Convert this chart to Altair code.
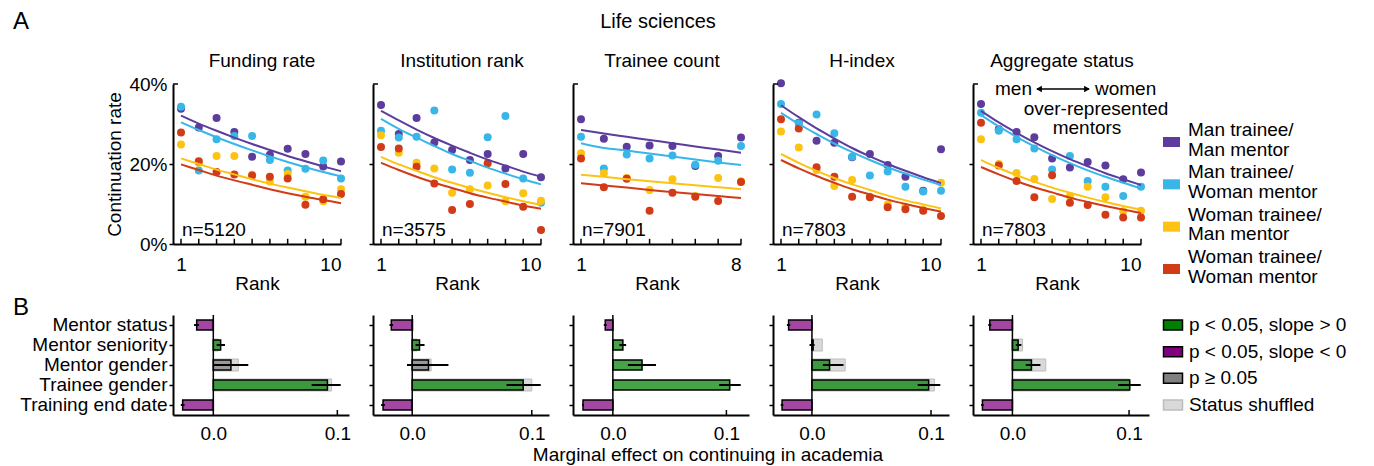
import altair as alt
import pandas as pd

FONT = "Liberation Sans"
FS = 19

# ---------------- Panel A data ----------------
GROUPS = ["Man trainee/Man mentor", "Man trainee/Woman mentor",
          "Woman trainee/Man mentor", "Woman trainee/Woman mentor"]
GROUP_COLORS = ["#5C3C9C", "#38B6E8", "#FDC313", "#D13B17"]

PANEL_TITLES = ["Funding rate", "Institution rank", "Trainee count", "H-index", "Aggregate status"]
N_LABELS = ["n=5120", "n=3575", "n=7901", "n=7803", "n=7803"]
RANK_MAX = [10, 10, 8, 10, 10]

# continuation rate (%) per rank, one list per group (order of GROUPS)
funding_points = [
    [33.8, 29.1, 31.5, 28.0, 21.8, 22.3, 23.8, 22.5, 19.4, 20.6],
    [34.3, 18.4, 26.2, 27.0, 27.0, 21.0, 18.4, 18.8, 20.9, 16.4],
    [24.9, 20.3, 22.0, 22.0, 17.3, 15.6, 17.5, 11.8, 10.7, 13.7],
    [27.9, 20.7, 18.0, 17.4, 17.1, 16.8, 16.4, 9.8, 11.2, 12.5],
]
funding_fit = [
    [32.1, 30.1, 28.3, 26.6, 25.0, 23.5, 22.0, 20.7, 19.4, 18.2],
    [30.4, 28.5, 26.7, 25.0, 23.4, 21.9, 20.5, 19.2, 18.0, 16.9],
    [21.4, 20.0, 18.6, 17.4, 16.2, 15.1, 14.1, 13.2, 12.3, 11.5],
    [19.9, 18.5, 17.1, 15.9, 14.8, 13.7, 12.7, 11.8, 11.0, 10.2],
]
institution_points = [
    [34.75, 27.5, 31.5, 25.4, 23.5, 21.0, 22.5, 18.9, 22.5, 16.7],
    [28.3, 26.6, 26.8, 33.4, 18.6, 17.8, 26.7, 32.0, 16.4, 10.3],
    [27.2, 22.8, 20.3, 18.9, 12.8, 13.7, 14.6, 10.7, 12.7, 10.8],
    [24.25, 23.9, 19.3, 15.1, 8.5, 10.0, 20.2, 15.0, 9.3, 3.5],
]
institution_fit = [
    [33.3, 30.9, 28.6, 26.5, 24.6, 22.8, 21.1, 19.6, 18.1, 16.8],
    [31.3, 28.8, 26.6, 24.5, 22.5, 20.8, 19.1, 17.6, 16.2, 14.9],
    [21.8, 19.9, 18.3, 16.7, 15.3, 14.0, 12.8, 11.7, 10.7, 9.8],
    [20.3, 18.5, 16.8, 15.3, 14.0, 12.7, 11.6, 10.6, 9.6, 8.8],
]
trainee_points = [
    [31.2, 26.3, 24.3, 24.6, 24.5, 19.5, 22.0, 26.6],
    [26.8, 18.9, 22.4, 21.4, 22.1, 19.8, 20.8, 24.5],
    [22.7, 17.7, 16.5, 13.5, 16.2, 12.0, 16.5, 15.7],
    [21.4, 14.2, 16.3, 8.3, 12.8, 11.8, 10.75, 15.5],
]
trainee_fit = [
    [28.5, 27.6, 26.8, 26.0, 25.2, 24.4, 23.6, 22.8],
    [25.2, 24.0, 23.4, 22.6, 21.9, 21.1, 20.4, 19.75],
    [17.3, 16.8, 16.2, 15.7, 15.2, 14.7, 14.2, 13.7],
    [15.2, 14.6, 14.1, 13.5, 13.0, 12.5, 12.0, 11.5],
]
hindex_points = [
    [40.2, 30.3, 25.8, 25.3, 21.7, 22.5, 19.75, 16.8, 13.3, 23.7],
    [35.0, 30.2, 32.4, 27.7, 21.8, 17.1, 18.1, 14.3, 13.1, 13.3],
    [28.1, 24.1, 18.5, 14.5, 16.0, 11.8, 9.9, 9.3, 8.5, 15.3],
    [31.2, 28.9, 19.2, 16.8, 11.8, 11.7, 9.2, 8.7, 8.3, 7.0],
]
hindex_fit = [
    [34.7, 31.7, 28.9, 26.4, 24.0, 21.9, 20.0, 18.3, 16.7, 15.2],
    [32.8, 30.0, 27.5, 25.1, 23.0, 21.0, 19.2, 17.6, 16.1, 14.75],
    [22.5, 20.3, 18.3, 16.5, 14.9, 13.5, 12.1, 10.9, 9.9, 8.9],
    [21.0, 18.9, 17.0, 15.3, 13.7, 12.4, 11.1, 10.0, 9.0, 8.1],
]
aggregate_points = [
    [35.0, 28.7, 28.0, 26.7, 21.4, 19.1, 20.5, 19.6, 16.2, 17.9],
    [32.8, 28.3, 26.2, 23.9, 18.6, 22.0, 15.75, 14.3, 12.0, 14.3],
    [26.2, 20.0, 17.75, 16.25, 11.25, 12.0, 14.3, 11.7, 8.2, 8.3],
    [30.3, 19.6, 15.75, 11.7, 17.2, 10.3, 9.75, 7.3, 6.6, 6.6],
]
aggregate_fit = [
    [33.3, 30.4, 27.8, 25.4, 23.2, 21.2, 19.4, 17.7, 16.2, 14.75],
    [32.25, 29.4, 26.8, 24.4, 22.2, 20.2, 18.4, 16.8, 15.3, 13.9],
    [21.0, 19.0, 17.2, 15.6, 14.1, 12.8, 11.6, 10.5, 9.5, 8.6],
    [19.25, 17.4, 15.7, 14.2, 12.9, 11.6, 10.5, 9.5, 8.6, 7.75],
]
TOP_POINTS = [funding_points, institution_points, trainee_points, hindex_points, aggregate_points]
TOP_FITS = [funding_fit, institution_fit, trainee_fit, hindex_fit, aggregate_fit]

# ---------------- Panel B data ----------------
FACTORS = ["Mentor status", "Mentor seniority", "Mentor gender", "Trainee gender", "Training end date"]
SIG_LABELS = ["p < 0.05, slope > 0", "p < 0.05, slope < 0", "p \u2265 0.05", "Status shuffled"]
SIG_COLORS = ["#007F00", "#800080", "#808080", "#D9D9D9"]
SIG_STROKES = ["black", "black", "black", "#BDBDBD"]

funding_effect = [-0.0134, 0.0059, 0.0142, 0.0920, -0.0247]
funding_lo = [-0.0155, 0.0027, 0.0000, 0.0793, -0.0262]
funding_hi = [-0.0115, 0.0094, 0.0282, 0.1027, -0.0232]
funding_shuffled = [-0.0010, 0.0040, 0.0202, 0.0954, -0.0010]
funding_sig = [1, 0, 2, 0, 1]

institution_effect = [-0.0175, 0.0061, 0.0136, 0.0928, -0.0244]
institution_lo = [-0.0190, 0.0028, -0.0044, 0.0789, -0.0260]
institution_hi = [-0.0160, 0.0103, 0.0303, 0.1075, -0.0228]
institution_shuffled = [0.0010, 0.0040, 0.0158, 0.1000, -0.0010]
institution_sig = [1, 0, 2, 0, 1]

trainee_effect = [-0.0067, 0.0088, 0.0257, 0.1029, -0.0263]
trainee_lo = [-0.0080, 0.0058, 0.0132, 0.0936, -0.0272]
trainee_hi = [-0.0055, 0.0117, 0.0380, 0.1126, -0.0254]
trainee_shuffled = [0.0, 0.0, 0.0, 0.0, 0.0]
trainee_sig = [1, 0, 0, 0, 1]

hindex_effect = [-0.0196, 0.0010, 0.0148, 0.0980, -0.0251]
hindex_lo = [-0.0210, -0.0020, 0.0092, 0.0888, -0.0262]
hindex_hi = [-0.0182, 0.0022, 0.0265, 0.1078, -0.0240]
hindex_shuffled = [0.0, 0.0087, 0.0279, 0.1028, 0.0]
hindex_sig = [1, 2, 0, 0, 1]

aggregate_effect = [-0.0194, 0.0049, 0.0163, 0.1006, -0.0257]
aggregate_lo = [-0.0207, 0.0029, 0.0114, 0.0906, -0.0268]
aggregate_hi = [-0.0181, 0.0077, 0.0240, 0.1100, -0.0246]
aggregate_shuffled = [0.0, 0.0086, 0.0286, 0.1000, 0.0]
aggregate_sig = [1, 0, 0, 0, 1]

BOTTOM = [
    (funding_effect, funding_lo, funding_hi, funding_shuffled, funding_sig),
    (institution_effect, institution_lo, institution_hi, institution_shuffled, institution_sig),
    (trainee_effect, trainee_lo, trainee_hi, trainee_shuffled, trainee_sig),
    (hindex_effect, hindex_lo, hindex_hi, hindex_shuffled, hindex_sig),
    (aggregate_effect, aggregate_lo, aggregate_hi, aggregate_shuffled, aggregate_sig),
]
BOTTOM_DOMAINS = [[-0.0325, 0.1094], [-0.0328, 0.1144], [-0.0351, 0.1199],
                  [-0.0327, 0.1151], [-0.0338, 0.1171]]

TOP_W, TOP_H = 168, 160
BOT_W, BOT_H = 176, 100

color_scale = alt.Scale(domain=GROUPS, range=GROUP_COLORS)
fill_scale = alt.Scale(domain=SIG_LABELS, range=SIG_COLORS)
stroke_scale = alt.Scale(domain=SIG_LABELS, range=SIG_STROKES)


def long_df(series):
    rows = []
    for g, vals in zip(GROUPS, series):
        for r, v in enumerate(vals, start=1):
            rows.append({"group": g, "rank": r, "rate": v})
    return pd.DataFrame(rows)


def text_layer(text, x, y, size=FS, align="left", baseline="middle"):
    return alt.Chart(pd.DataFrame({"t": [text]})).mark_text(
        align=align, baseline=baseline, fontSize=size, font=FONT, color="black"
    ).encode(x=alt.value(x), y=alt.value(y), text="t:N")


def top_panel(i):
    maxr = RANK_MAX[i]
    d0 = 1 - 8 * (maxr - 1) / 160
    first = i == 0
    xs = alt.Scale(domain=[d0, maxr], nice=False, zero=False)
    ys = alt.Scale(domain=[0, 40], nice=False)
    hide_top = {"condition": {"test": "datum.value >= 40", "value": 0}, "value": 1}
    if first:
        yaxis = alt.Axis(values=[0, 10, 20, 30, 40],
                         labelExpr="round(datum.value) % 20 == 0 ? datum.value + '%' : ''",
                         title="Continuation rate", tickSize=4, labelPadding=2, titlePadding=4,
                         grid=False, domainWidth=2, tickWidth=1.5, tickOpacity=hide_top)
    else:
        yaxis = alt.Axis(values=[0, 10, 20, 30, 40], labels=False, title=None, tickSize=4,
                         grid=False, domainWidth=2, tickWidth=1.5, tickOpacity=hide_top)
    xaxis = alt.Axis(values=[1, maxr], format="d", ticks=False, tickSize=0, labelPadding=11,
                     title="Rank", titlePadding=0, grid=False, domainWidth=2)
    X = alt.X("rank:Q", scale=xs, axis=xaxis)
    Y = alt.Y("rate:Q", scale=ys, axis=yaxis)
    col = alt.Color("group:N", scale=color_scale, legend=None)

    dots = alt.Chart(long_df(TOP_POINTS[i])).mark_circle(size=64, opacity=1).encode(x=X, y=Y, color=col)
    lines = alt.Chart(long_df(TOP_FITS[i])).mark_line(strokeWidth=2, interpolate="monotone").encode(
        x=X, y=Y, color=col, detail="group:N")
    ticks = alt.Chart(pd.DataFrame({"rank": list(range(1, maxr + 1))})).mark_rule(
        color="black", strokeWidth=1.5).encode(x="rank:Q", y=alt.datum(0), y2=alt.datum(1.3))
    toptick = alt.Chart(pd.DataFrame({"rate": [40]})).mark_rule(color="black", strokeWidth=1.5).encode(
        x=alt.value(0), x2=alt.value(5), y="rate:Q")
    layers = [dots, lines, ticks, toptick,
              text_layer(N_LABELS[i], 9, 146),
              text_layer(PANEL_TITLES[i], 89, -23, align="center")]
    if i == 0:
        layers.append(text_layer("A", -160, -62, size=24))
    if i == 2:
        layers.append(text_layer("Life sciences", 85, -62, size=20, align="center"))
    if i == 4:
        layers += [
            text_layer("men", 59, 5, align="right"),
            text_layer("women", 122, 5, align="left"),
            text_layer("over-represented", 123, 24.5, align="center"),
            text_layer("mentors", 114, 44, align="center"),
            alt.Chart(pd.DataFrame({"a": [0]})).mark_rule(color="black", strokeWidth=1.5).encode(
                x=alt.value(64), x2=alt.value(116), y=alt.value(5)),
            alt.Chart(pd.DataFrame({"a": [0]})).mark_point(
                shape="triangle-left", filled=True, color="black", size=45, opacity=1).encode(
                x=alt.value(66), y=alt.value(5)),
            alt.Chart(pd.DataFrame({"a": [0]})).mark_point(
                shape="triangle-right", filled=True, color="black", size=45, opacity=1).encode(
                x=alt.value(114), y=alt.value(5)),
        ]
    return alt.layer(*layers).properties(width=TOP_W, height=TOP_H)


def bottom_panel(i):
    eff, lo, hi, shuf, sig = BOTTOM[i]
    first = i == 0
    df = pd.DataFrame({"factor": FACTORS, "effect": eff, "lo": lo, "hi": hi,
                       "shuffled": shuf, "sig": [SIG_LABELS[k] for k in sig]})
    xs = alt.Scale(domain=BOTTOM_DOMAINS[i], nice=False, zero=False)
    ys = alt.Scale(domain=FACTORS, paddingInner=0.5, paddingOuter=0.25)
    if first:
        yaxis = alt.Axis(title=None, tickSize=4, labelPadding=2, domainWidth=2, tickWidth=1.5)
    else:
        yaxis = alt.Axis(title=None, labels=False, tickSize=4, domainWidth=2, tickWidth=1.5)
    xaxis = alt.Axis(values=[0, 0.1], format=".1f", ticks=False, tickSize=0, labelPadding=9,
                     title=None, grid=False, domainWidth=2)
    Y = alt.Y("factor:N", scale=ys, axis=yaxis, sort=FACTORS)

    shuf_bars = alt.Chart(df).mark_bar(size=12, color="#D9D9D9", stroke="#BDBDBD", strokeWidth=1).encode(
        x=alt.X("shuffled:Q", scale=xs, axis=xaxis), x2=alt.datum(0), y=Y)
    bars = alt.Chart(df).mark_bar(size=10, stroke="black", strokeWidth=1.5, fillOpacity=0.72).encode(
        x=alt.X("effect:Q", scale=xs, axis=xaxis), x2=alt.datum(0), y=Y,
        fill=alt.Fill("sig:N", scale=fill_scale, legend=None))
    zero = alt.Chart(pd.DataFrame({"a": [0]})).mark_rule(color="black", strokeWidth=1.5).encode(
        x=alt.datum(0), y=alt.value(0), y2=alt.value(BOT_H))
    tick01 = alt.Chart(pd.DataFrame({"a": [0]})).mark_rule(color="black", strokeWidth=1.5).encode(
        x=alt.datum(0.1), y=alt.value(BOT_H), y2=alt.value(BOT_H - 5))
    err = alt.Chart(df).mark_rule(color="black", strokeWidth=2).encode(x="lo:Q", x2="hi:Q", y=Y)
    layers = [shuf_bars, bars, zero, tick01, err]
    if i == 0:
        layers.append(text_layer("B", -160, -7, size=24))
    if i == 2:
        layers.append(text_layer("Marginal effect on continuing in academia", 135, 140, align="center"))
    return alt.layer(*layers).properties(width=BOT_W, height=BOT_H)


RECT_TOP = "M-1,-0.59L1,-0.59L1,0.59L-1,0.59Z"
RECT_BOT = "M-1,-0.53L1,-0.53L1,0.53L-1,0.53Z"


def legend_top():
    df = pd.DataFrame({"group": GROUPS,
                       "line1": [g.split("/")[0] + "/" for g in GROUPS],
                       "line2": [g.split("/")[1] for g in GROUPS]})
    Y = alt.Y("group:N", scale=alt.Scale(type="point", domain=GROUPS, range=[58, 185], padding=0), axis=None)
    sym = alt.Chart(df).mark_point(shape=RECT_TOP, size=289, filled=True, opacity=1).encode(
        x=alt.value(-1.5), y=Y, color=alt.Color("group:N", scale=color_scale, legend=None))
    txt1 = alt.Chart(df).mark_text(align="left", baseline="middle", fontSize=FS, font=FONT,
                                   color="black", dy=-12).encode(x=alt.value(15), y=Y, text="line1:N")
    txt2 = alt.Chart(df).mark_text(align="left", baseline="middle", fontSize=FS, font=FONT,
                                   color="black", dy=7.5).encode(x=alt.value(15), y=Y, text="line2:N")
    return alt.layer(sym, txt1, txt2).properties(width=150, height=TOP_H)


def legend_bottom():
    df = pd.DataFrame({"label": SIG_LABELS})
    Y = alt.Y("label:N", scale=alt.Scale(type="point", domain=SIG_LABELS, range=[10, 90], padding=0), axis=None)
    sym = alt.Chart(df).mark_point(shape=RECT_BOT, size=361, filled=True, opacity=1, strokeWidth=1.5).encode(
        x=alt.value(0), y=Y,
        fill=alt.Fill("label:N", scale=fill_scale, legend=None),
        stroke=alt.Stroke("label:N", scale=stroke_scale, legend=None))
    txt = alt.Chart(df).mark_text(align="left", baseline="middle", fontSize=FS, font=FONT, color="black").encode(
        x=alt.value(16), y=Y, text="label:N")
    return alt.layer(sym, txt).properties(width=120, height=BOT_H)


cells = [top_panel(i) for i in range(5)] + [legend_top()] + \
        [bottom_panel(i) for i in range(5)] + [legend_bottom()]

chart = alt.concat(*cells, columns=6, spacing={"row": 71, "column": 24}, bounds="flush").properties(
    padding={"left": 13, "top": 10, "right": 10, "bottom": 2}, background="white"
).configure_view(stroke=None).configure_axis(
    labelFont=FONT, titleFont=FONT, labelFontSize=FS, titleFontSize=FS,
    labelColor="black", titleColor="black", domainColor="black", tickColor="black",
    titleFontWeight="normal", grid=False
)

chart.save("out.html", embed_options={"renderer": "svg", "actions": False})
